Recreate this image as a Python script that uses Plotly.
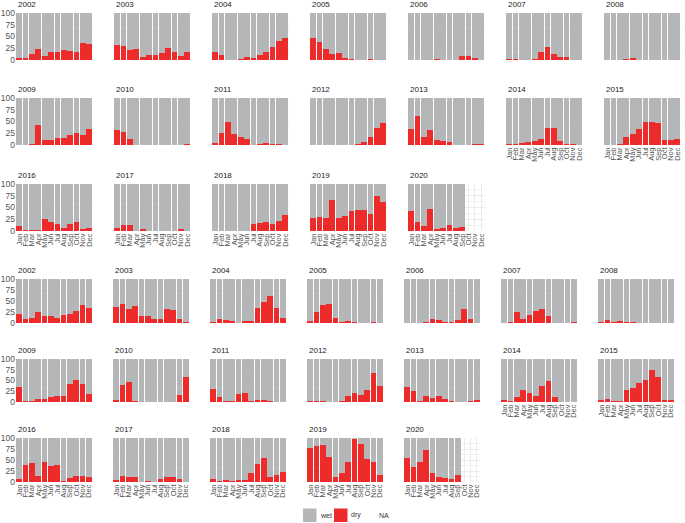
import plotly.graph_objects as go

months = ["Jan", "Feb", "Mar", "Apr", "May", "Jun", "Jul", "Aug", "Sep", "Oct", "Nov", "Dec"]
years = list(range(2002, 2021))

# percentage of "dry" per month (upper set of panels)
dry_upper = [
    [5, 5, 13, 24, 8, 18, 17, 21, 20, 16, 36, 35],      # 2002
    [31, 29, 22, 24, 7, 10, 10, 15, 25, 18, 8, 16],     # 2003
    [17, 10, 1, 0, 2, 7, 5, 11, 17, 28, 40, 47],        # 2004
    [46, 38, 24, 12, 14, 5, 2, 1, 1, 3, 1, 1],          # 2005
    [0, 1, 0, 1, 3, 0, 0, 1, 9, 9, 5, 1],               # 2006
    [3, 2, 0, 0, 2, 18, 27, 12, 6, 6, 0, 1],            # 2007
    [0, 0, 0, 2, 5, 1, 1, 0, 1, 1, 0, 0],               # 2008
    [0, 0, 2, 43, 11, 11, 15, 15, 22, 26, 21, 33],      # 2009
    [31, 28, 13, 1, 0, 0, 0, 0, 0, 0, 1, 2],            # 2010
    [5, 25, 49, 23, 18, 13, 1, 2, 4, 3, 3, 0],          # 2011
    [0, 0, 1, 0, 1, 1, 1, 2, 6, 18, 36, 46],            # 2012
    [35, 61, 16, 31, 11, 9, 6, 1, 1, 1, 3, 3],          # 2013
    [2, 2, 5, 6, 8, 13, 36, 36, 8, 3, 3, 0],            # 2014
    [0, 0, 2, 18, 23, 33, 48, 48, 46, 11, 11, 12],      # 2015
    [10, 3, 3, 2, 25, 19, 15, 7, 15, 20, 5, 7],         # 2016
    [7, 13, 13, 1, 4, 1, 0, 0, 1, 1, 4, 1],             # 2017
    [0, 0, 0, 0, 1, 1, 14, 17, 20, 14, 22, 35],         # 2018
    [28, 29, 28, 67, 27, 31, 43, 44, 45, 37, 74, 61],   # 2019
    [42, 19, 11, 46, 5, 6, 12, 7, 8, None, None, None], # 2020
]

# percentage of "dry" per month (lower set of panels)
dry_lower = [
    [20, 8, 12, 24, 15, 16, 11, 18, 21, 28, 40, 34],    # 2002
    [36, 43, 32, 39, 17, 15, 9, 8, 31, 30, 9, 3],       # 2003
    [2, 8, 7, 5, 1, 5, 5, 35, 47, 61, 35, 12],          # 2004
    [4, 26, 40, 43, 11, 3, 4, 3, 0, 0, 2, 1],           # 2005
    [0, 0, 0, 2, 10, 7, 2, 2, 7, 31, 10, 0],            # 2006
    [0, 2, 25, 8, 19, 27, 32, 15, 0, 0, 0, 2],          # 2007
    [3, 7, 2, 5, 2, 2, 1, 1, 1, 1, 0, 0],               # 2008
    [35, 3, 3, 8, 8, 12, 13, 13, 42, 52, 42, 19],       # 2009
    [4, 39, 46, 3, 0, 0, 0, 1, 0, 0, 16, 58],           # 2010
    [31, 12, 2, 2, 18, 21, 3, 5, 5, 2, 1, 0],           # 2011
    [2, 2, 3, 0, 0, 2, 15, 20, 17, 28, 68, 38],         # 2012
    [35, 25, 3, 14, 9, 14, 8, 2, 0, 0, 3, 5],           # 2013
    [5, 3, 12, 28, 20, 13, 38, 49, 12, 0, 1, 0],        # 2014
    [5, 7, 3, 3, 28, 33, 45, 52, 75, 57, 5, 5],         # 2015
    [6, 38, 43, 13, 46, 37, 38, 2, 8, 14, 14, 12],      # 2016
    [4, 14, 12, 12, 1, 2, 0, 6, 11, 12, 6, 1],          # 2017
    [6, 2, 4, 2, 5, 4, 20, 40, 55, 12, 16, 22],         # 2018
    [78, 81, 85, 56, 11, 21, 45, 98, 86, 52, 45, 15],   # 2019
    [54, 35, 46, 72, 21, 12, 9, 7, 17, None, None, None], # 2020
]

y_ticks = [0, 25, 50, 75, 100]
legend_labels = ["wet", "dry", "NA"]

W, H = 685, 523
WET_COL = "#B4B6B8"
DRY_COL = "#EE2B2B"
NA_COL = "rgba(0,0,0,0)"
FONT = "Liberation Sans, Arial, sans-serif"

blocks = [
    dict(data=dry_upper, x0=16, step=98.0, w=76.5, rows=[(13, 60), (98, 145), (184, 231)]),
    dict(data=dry_lower, x0=16, step=97.0, w=76, rows=[(279, 323), (359, 402), (438, 482)]),
]

fig = go.Figure()
layout_axes = {}
annotations = []
shapes = []
xs = list(range(12))
n = 0
for b in blocks:
    for i, year in enumerate(years):
        n += 1
        dry = b["data"][i]
        wet = [None if d is None else 100 - d for d in dry]
        na = [100 if d is None else None for d in dry]
        col, row = i % 7, i // 7
        left = b["x0"] + col * b["step"]
        top, bot = b["rows"][row]
        xa = "x" if n == 1 else f"x{n}"
        ya = "y" if n == 1 else f"y{n}"
        fig.add_trace(go.Bar(x=xs, y=dry, name="dry", marker=dict(color=DRY_COL, line=dict(width=0)),
                             xaxis=xa, yaxis=ya, showlegend=False, hoverinfo="skip"))
        fig.add_trace(go.Bar(x=xs, y=wet, name="wet", marker=dict(color=WET_COL, line=dict(width=0)),
                             xaxis=xa, yaxis=ya, showlegend=False, hoverinfo="skip"))
        fig.add_trace(go.Bar(x=xs, y=na, name="NA", marker=dict(color=NA_COL, line=dict(width=0)),
                             xaxis=xa, yaxis=ya, showlegend=False, hoverinfo="skip"))
        has_below = (row == 1 and col >= 5) or row == 2
        xname = "xaxis" if n == 1 else f"xaxis{n}"
        yname = "yaxis" if n == 1 else f"yaxis{n}"
        layout_axes[xname] = dict(
            domain=[left / W, (left + b["w"]) / W], anchor=ya, range=[-0.5, 11.5],
            tickmode="array", tickvals=xs, ticktext=months, tickangle=-90, automargin=False,
            showticklabels=has_below, ticks="", showgrid=True, gridcolor="#EBEBEB", gridwidth=1,
            zeroline=False, showline=False, fixedrange=True,
            tickfont=dict(size=7.5, color="#555555", family=FONT),
        )
        layout_axes[yname] = dict(
            domain=[1 - bot / H, 1 - top / H], anchor=xa, range=[0, 100], automargin=False,
            tickmode="array", tickvals=y_ticks, showticklabels=(col == 0), ticks="",
            showgrid=True, gridcolor="#EBEBEB", gridwidth=1, zeroline=False, showline=False,
            minor=dict(dtick=12.5, tick0=0, showgrid=True, gridcolor="#F3F3F3", gridwidth=0.5),
            tickfont=dict(size=8.5, color="#555555", family=FONT), fixedrange=True,
        )
        annotations.append(dict(
            text=str(year), xref="paper", yref="paper", x=(left + 1) / W, y=1 - (top - 8.5) / H,
            xanchor="left", yanchor="middle", showarrow=False, borderpad=0,
            font=dict(size=8, color="#222222", family=FONT),
        ))

# manual legend (keys at the bottom)
legend_cols = [WET_COL, DRY_COL, NA_COL]
key_x = [303, 334, 362]
for lab, c, kx in zip(legend_labels, legend_cols, key_x):
    shapes.append(dict(type="rect", xref="paper", yref="paper",
                       x0=kx / W, x1=(kx + 13.5) / W, y0=1 - 522 / H, y1=1 - 508.5 / H,
                       fillcolor=c, line=dict(width=0)))
    annotations.append(dict(text=lab, xref="paper", yref="paper", x=(kx + 16) / W, y=1 - 515 / H,
                            xanchor="left", yanchor="middle", showarrow=False, borderpad=0,
                            font=dict(size=7, color="#333333", family=FONT)))

fig.update_layout(
    width=W, height=H, margin=dict(l=0, r=0, t=0, b=0, pad=0),
    paper_bgcolor="white", plot_bgcolor="white",
    barmode="stack", bargap=0.1, showlegend=False,
    annotations=annotations, shapes=shapes,
    font=dict(family=FONT),
    **layout_axes,
)

fig.write_html("out.html", config={"displayModeBar": False},
               post_script="document.body.style.margin='0';document.body.style.padding='0';")
